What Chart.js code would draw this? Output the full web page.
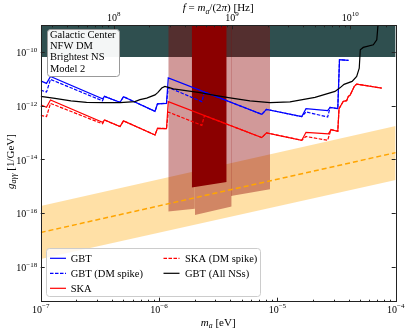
<!DOCTYPE html>
<html>
<head>
<meta charset="utf-8">
<script src="https://cdn.jsdelivr.net/npm/chart.js@4.4.0/dist/chart.umd.min.js"></script>
<style>
  html, body { margin: 0; padding: 0; background: #fff; }
  canvas { display: block; }
</style>
</head>
<body>
<canvas id="c" width="407" height="331"></canvas>
<script>
// axion mass (eV) -> coupling g_agg (1/GeV)
var gbtMass = [1.0e-7, 1.12e-7, 1.21e-7, 3.33e-7, 3.46e-7, 4.68e-7, 5.01e-7, 9.25e-7, 9.70e-7, 1.156e-6, 1.197e-6, 7.38e-6, 8.09e-6, 1.607e-5, 1.746e-5, 2.66e-5, 2.79e-5, 3.24e-5, 3.35e-5, 3.99e-5];
var gbtG = [8.47e-12, 6.84e-12, 1.247e-11, 1.815e-12, 2.25e-12, 1.343e-12, 2.19e-12, 6.21e-13, 1.183e-12, 1.233e-12, 1.096e-11, 4.81e-13, 7.38e-13, 3.94e-13, 7.83e-13, 6.61e-13, 8.75e-13, 7.83e-13, 5.21e-11, 4.91e-11];

var gbtSpikeMass = [1.0e-7, 1.12e-7, 1.21e-7, 3.33e-7, 3.46e-7, 4.68e-7, 5.01e-7, 9.25e-7, 9.70e-7, 1.156e-6, 1.197e-6, 2.30e-6, 2.42e-6, 7.38e-6, 8.09e-6, 1.607e-5, 1.746e-5, 2.66e-5, 2.79e-5, 3.24e-5, 3.35e-5, 3.99e-5];
var gbtSpikeG = [3.85e-12, 3.25e-12, 9.64e-12, 1.53e-12, 2.25e-12, 1.343e-12, 2.19e-12, 6.21e-13, 1.183e-12, 1.233e-12, 4.86e-12, 1.43e-12, 3.27e-12, 4.81e-13, 7.38e-13, 3.94e-13, 5.90e-13, 3.81e-13, 8.75e-13, 7.83e-13, 5.21e-11, 4.91e-11];

var skaMass = [1.0e-7, 1.12e-7, 1.21e-7, 3.33e-7, 3.46e-7, 4.68e-7, 5.01e-7, 9.25e-7, 9.70e-7, 1.156e-6, 1.197e-6, 7.38e-6, 8.09e-6, 1.607e-5, 1.746e-5, 2.70e-5, 2.84e-5, 3.24e-5, 3.32e-5, 3.61e-5, 3.85e-5, 3.98e-5, 4.11e-5, 4.47e-5, 4.68e-5, 7.62e-5];
var skaG = [1.08e-12, 8.75e-13, 1.64e-12, 2.42e-13, 2.95e-13, 1.68e-13, 2.75e-13, 8.17e-14, 1.45e-13, 1.41e-13, 1.43e-12, 6.53e-14, 9.85e-14, 5.18e-14, 1.03e-13, 9.0e-14, 1.30e-13, 1.12e-13, 7.83e-13, 1.47e-12, 1.56e-12, 2.25e-12, 2.45e-12, 5.30e-12, 6.44e-12, 4.57e-12];

var skaSpikeMass = [1.0e-7, 1.12e-7, 1.21e-7, 3.33e-7, 3.46e-7, 4.68e-7, 5.01e-7, 9.25e-7, 9.70e-7, 1.156e-6, 1.197e-6, 2.30e-6, 2.42e-6, 7.38e-6, 8.09e-6, 1.607e-5, 1.746e-5, 2.66e-5, 2.84e-5, 3.24e-5, 3.32e-5, 3.61e-5, 3.85e-5, 3.98e-5, 4.11e-5, 4.47e-5, 4.68e-5, 7.62e-5];
var skaSpikeG = [4.42e-13, 3.94e-13, 1.23e-12, 2.13e-13, 2.95e-13, 1.68e-13, 2.75e-13, 8.17e-14, 1.45e-13, 1.41e-13, 5.85e-13, 1.87e-13, 4.34e-13, 6.53e-14, 9.85e-14, 5.18e-14, 7.18e-14, 5.18e-14, 1.30e-13, 1.12e-13, 7.83e-13, 1.47e-12, 1.56e-12, 2.25e-12, 2.45e-12, 5.30e-12, 6.44e-12, 4.57e-12];

var allNsMass = [1.0e-7, 1.32e-7, 1.80e-7, 2.44e-7, 3.49e-7, 4.68e-7, 6.25e-7, 6.90e-7, 7.87e-7, 9.25e-7, 9.79e-7, 1.054e-6, 1.122e-6, 1.197e-6, 1.321e-6, 2.22e-6, 2.97e-6, 3.98e-6, 5.87e-6, 8.67e-6, 1.279e-5, 2.08e-5, 3.07e-5, 3.38e-5, 3.66e-5, 4.28e-5, 4.68e-5, 4.92e-5, 5.02e-5, 5.32e-5, 6.47e-5, 6.92e-5, 7.05e-5, 7.13e-5];
var allNsG = [2.25e-12, 1.89e-12, 1.53e-12, 1.34e-12, 1.31e-12, 1.31e-12, 1.43e-12, 1.69e-12, 1.94e-12, 2.55e-12, 3.17e-12, 4.57e-12, 5.30e-12, 4.86e-12, 4.28e-12, 3.08e-12, 2.45e-12, 1.98e-12, 1.53e-12, 1.31e-12, 1.40e-12, 2.06e-12, 3.45e-12, 4.66e-12, 6.28e-12, 8.13e-12, 1.25e-11, 2.54e-11, 1.23e-10, 1.50e-10, 1.88e-10, 2.89e-10, 7.82e-10, 1.5e-9];

// QCD axion band
var bandMass = [1e-7, 1e-4];
var bandUpper = [1.86e-16, 1.77e-13];
var bandLower = [1.94e-18, 1.73e-15];
var bandCentral = [1.9e-17, 1.8e-14];

// helioscope limit and existing exclusions
var castLimit = 6.6e-11;
var shadedMass = [[1.197e-6, 2.01e-6], [2.01e-6, 4.11e-6], [4.05e-6, 8.67e-6]];
var shadedFloor = [[1.15e-16, 1.47e-16], [8.6e-17, 1.77e-16], [4.38e-16, 7.78e-16]];
var darkMass = [1.89e-6, 3.73e-6];
var darkFloor = [9.0e-16, 1.46e-15];

// ticks
var xTicks = [1e-7, 1e-6, 1e-5, 1e-4];
var yTicks = [1e-18, 1e-16, 1e-14, 1e-12, 1e-10];
var fTicks = [1e8, 1e9, 1e10];
var HZ_PER_EV = 2.418e14;

var SERIF = '"Liberation Serif", "DejaVu Serif", serif';

function pts(xs, ys) {
  return xs.map(function (x, i) { return { x: x, y: ys[i] }; });
}

function line(label, xs, ys, color, dash, order) {
  return {
    label: label, data: pts(xs, ys), borderColor: color, borderWidth: 1.2,
    borderDash: dash || [], pointRadius: 0, fill: false, order: order
  };
}

var datasets = [
  line('GBT (All NSs)', allNsMass, allNsG, '#000000', null, 0),
  line('SKA (DM spike)', skaSpikeMass, skaSpikeG, '#ff0000', [3.5, 1.5], 1),
  line('SKA', skaMass, skaG, '#ff0000', null, 2),
  line('GBT (DM spike)', gbtSpikeMass, gbtSpikeG, '#0000ff', [3.5, 1.5], 3),
  line('GBT', gbtMass, gbtG, '#0000ff', null, 4),
  { data: pts(bandMass, bandCentral), borderColor: '#ffa500', borderWidth: 1.5, borderDash: [5, 3], pointRadius: 0, fill: false, order: 5 },
  { data: pts(darkMass, darkFloor), borderWidth: 0, pointRadius: 0, fill: 'end', backgroundColor: '#8b0000', order: 6 }
];
shadedMass.forEach(function (m, i) {
  datasets.push({ data: pts(m, shadedFloor[i]), borderWidth: 0, pointRadius: 0, fill: 'end', backgroundColor: 'rgba(139,0,0,0.4)', order: 7 });
});
var upperIndex = datasets.length;
datasets.push({ data: pts(bandMass, bandUpper), borderWidth: 0, pointRadius: 0, fill: '+1', backgroundColor: 'rgba(255,165,0,0.35)', order: 8 });
datasets.push({ data: pts(bandMass, bandLower), borderWidth: 0, pointRadius: 0, fill: false, order: 9 });
datasets.push({ data: pts(bandMass, [castLimit, castLimit]), borderWidth: 0, pointRadius: 0, fill: 'end', backgroundColor: '#2f4f4f', order: 10 });

function fontFor(p, size) {
  var s = (p.sub || p.sup) ? size * 0.7 : size;
  return (p.it ? 'italic ' : '') + s + 'px ' + SERIF;
}

function drawRich(ctx, parts, x, y, size, align) {
  var w = 0;
  parts.forEach(function (p) { ctx.font = fontFor(p, size); p.w = ctx.measureText(p.t).width; w += p.w; });
  var cx = align === 'center' ? x - w / 2 : (align === 'right' ? x - w : x);
  ctx.textAlign = 'left';
  ctx.textBaseline = 'alphabetic';
  parts.forEach(function (p) {
    ctx.font = fontFor(p, size);
    var dy = p.sub ? size * 0.25 : (p.sup ? -size * 0.42 : 0);
    ctx.fillText(p.t, cx, y + dy);
    cx += p.w;
  });
}

var SUP = { '-': '\u2212' };
function powParts(v) {
  var e = Math.round(Math.log10(v));
  var s = String(e).replace('-', '\u2212');
  return [{ t: '10' }, { t: s, sup: true }];
}

var decor = {
  id: 'decor',
  afterDatasetsDraw: function (chart) {
    var ctx = chart.ctx, a = chart.chartArea;
    var sx = chart.scales.x, sy = chart.scales.y, sf = chart.scales.f;
    ctx.save();
    ctx.fillStyle = '#000';
    ctx.strokeStyle = '#222';
    ctx.lineWidth = 1;

    // ticks pointing inwards
    function tickX(scale, v, len, fromTop) {
      var px = Math.round(scale.getPixelForValue(v)) + 0.5;
      ctx.beginPath();
      if (fromTop) { ctx.moveTo(px, a.top); ctx.lineTo(px, a.top + len); }
      else { ctx.moveTo(px, a.bottom); ctx.lineTo(px, a.bottom - len); }
      ctx.stroke();
    }
    for (var d = -7; d < -4; d++) {
      for (var k = 1; k < 10; k++) tickX(sx, k * Math.pow(10, d), k === 1 ? 4 : 2, false);
    }
    for (var e = 7; e <= 10; e++) {
      for (var k2 = 1; k2 < 10; k2++) {
        var f = k2 * Math.pow(10, e);
        if (f < sf.min || f > sf.max) continue;
        tickX(sf, f, k2 === 1 ? 4 : 2, true);
      }
    }
    yTicks.forEach(function (v) {
      var py = Math.round(sy.getPixelForValue(v)) + 0.5;
      ctx.beginPath();
      ctx.moveTo(a.left, py); ctx.lineTo(a.left + 4, py);
      ctx.moveTo(a.right, py); ctx.lineTo(a.right - 4, py);
      ctx.stroke();
    });

    // frame
    ctx.strokeRect(Math.round(a.left) + 0.5, Math.round(a.top) + 0.5, Math.round(a.right - a.left), Math.round(a.bottom - a.top));

    // tick labels
    yTicks.forEach(function (v) {
      drawRich(ctx, powParts(v), a.left - 3.5, sy.getPixelForValue(v) + 4.2, 10, 'right');
    });
    xTicks.forEach(function (v) {
      drawRich(ctx, powParts(v), sx.getPixelForValue(v), a.bottom + 10.8, 10, 'center');
    });
    fTicks.forEach(function (v) {
      drawRich(ctx, powParts(v), sf.getPixelForValue(v), a.top - 4.8, 10, 'center');
    });

    // axis titles
    var cxm = (a.left + a.right) / 2;
    drawRich(ctx, [{ t: 'm', it: true }, { t: 'a', it: true, sub: true }, { t: ' [eV]' }], cxm, 325.5, 11, 'center');
    drawRich(ctx, [{ t: 'f', it: true }, { t: ' = ' }, { t: 'm', it: true }, { t: 'a', it: true, sub: true }, { t: '/(2' }, { t: '\u03c0', it: true }, { t: ') [Hz]' }], cxm, 10.8, 11, 'center');
    ctx.save();
    ctx.translate(13.5, 161.5);
    ctx.rotate(-Math.PI / 2);
    drawRich(ctx, [{ t: 'g', it: true }, { t: 'a\u03b3\u03b3', it: true, sub: true }, { t: ' [1/GeV]' }], 0, 0, 11, 'center');
    ctx.restore();

    function box(x0, y0, x1, y1, fill, stroke) {
      ctx.beginPath();
      ctx.roundRect(x0 + 0.5, y0 + 0.5, x1 - x0, y1 - y0, 3);
      ctx.fillStyle = fill; ctx.fill();
      ctx.strokeStyle = stroke; ctx.lineWidth = 1; ctx.stroke();
      ctx.fillStyle = '#000';
    }

    // info box
    box(47, 29, 119, 76, 'rgba(255,255,255,0.95)', '#999');
    ['Galactic Center', 'NFW DM', 'Brightest NS', 'Model 2'].forEach(function (t, i) {
      ctx.font = '10.5px ' + SERIF;
      ctx.textAlign = 'left'; ctx.textBaseline = 'middle';
      ctx.fillText(t, 50, 35.5 + i * 11.1);
    });

    // legend, two columns
    box(46, 248, 260, 296, 'rgba(255,255,255,0.8)', '#ccc');
    var entries = [
      ['GBT', '#0000ff', [], 50, 70.7, 258.3],
      ['GBT (DM spike)', '#0000ff', [3.5, 1.5], 50, 70.7, 273.3],
      ['SKA', '#ff0000', [], 50, 70.7, 288.3],
      ['SKA (DM spike)', '#ff0000', [3.5, 1.5], 163.5, 185, 258.3],
      ['GBT (All NSs)', '#000000', [], 163.5, 185, 273.3]
    ];
    entries.forEach(function (en) {
      ctx.save();
      ctx.strokeStyle = en[1]; ctx.lineWidth = 1.2; ctx.setLineDash(en[2]);
      ctx.beginPath(); ctx.moveTo(en[3], en[5]); ctx.lineTo(en[3] + 16, en[5]); ctx.stroke();
      ctx.restore();
      ctx.font = '10.5px ' + SERIF;
      ctx.textAlign = 'left'; ctx.textBaseline = 'middle';
      ctx.fillText(en[0], en[4], en[5] + 0.5);
    });
    ctx.restore();
  }
};

function fixedTicks(list) {
  return function (s) { s.ticks = list.map(function (v) { return { value: v }; }); };
}

new Chart(document.getElementById('c').getContext('2d'), {
  type: 'line',
  data: { datasets: datasets },
  options: {
    responsive: false,
    devicePixelRatio: 1,
    animation: false,
    events: [],
    layout: { padding: { right: 11.3, left: 0, top: 0, bottom: 0 } },
    plugins: { legend: { display: false }, tooltip: { enabled: false } },
    elements: { line: { tension: 0 } },
    scales: {
      x: {
        type: 'logarithmic', position: 'bottom', min: 1e-7, max: 1e-4, bounds: 'data',
        grid: { display: false }, border: { display: false }, ticks: { display: false },
        afterBuildTicks: fixedTicks(xTicks),
        afterFit: function (s) { s.height = 29.3; }
      },
      f: {
        type: 'logarithmic', position: 'top', min: 1e-7 * HZ_PER_EV, max: 1e-4 * HZ_PER_EV, bounds: 'data',
        grid: { display: false }, border: { display: false }, ticks: { display: false },
        afterBuildTicks: fixedTicks(fTicks),
        afterFit: function (s) { s.height = 25.3; }
      },
      y: {
        type: 'logarithmic', position: 'left', min: 5e-20, max: 1e-9, bounds: 'data',
        grid: { display: false }, border: { display: false }, ticks: { display: false },
        afterBuildTicks: fixedTicks(yTicks),
        afterFit: function (s) { s.width = 40.7; }
      }
    }
  },
  plugins: [decor]
});
</script>
</body>
</html>
